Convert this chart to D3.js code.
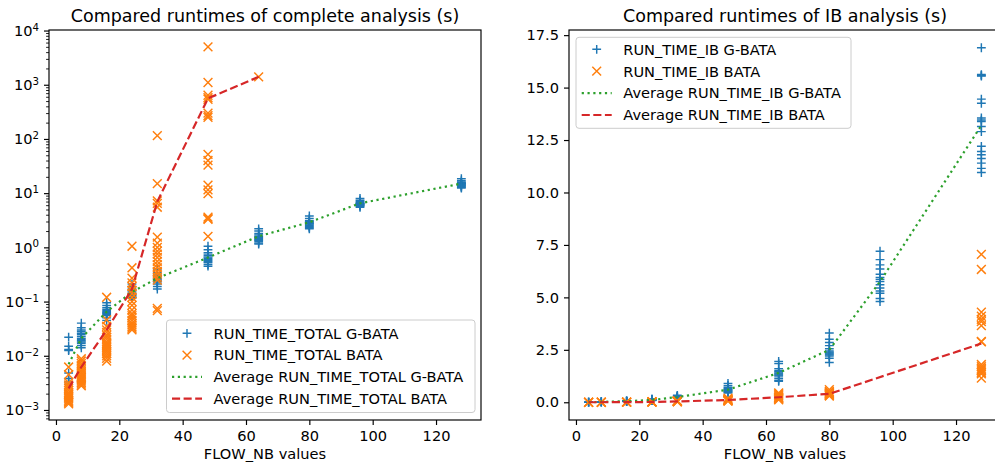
<!DOCTYPE html>
<html>
<head>
<meta charset="utf-8">
<script src="https://cdn.jsdelivr.net/npm/d3@7"></script>
<style>
  html, body { margin: 0; padding: 0; background: #fff; }
  svg { display: block; font-family: "DejaVu Sans", sans-serif; }
</style>
</head>
<body>
<svg id="chart" width="995" height="468"></svg>
<script>
// ---- data -------------------------------------------------------------
const flowAll = [4, 8, 16, 24, 32, 48, 64, 80, 96, 128];
const flowTotalBata = [4, 8, 16, 24, 32, 48, 64];
const flowIbBata = [4, 8, 16, 24, 32, 48, 64, 80, 128];

// complete analysis runtimes (s), one list of runs per FLOW_NB value
const totalGbataRuns = [
  [0.022, 0.015, 0.013, 0.0125, 0.0048, 0.0038, 0.0033, 0.003],
  [0.04, 0.033, 0.03, 0.028, 0.026, 0.025, 0.023, 0.021, 0.02, 0.019, 0.018, 0.017, 0.0155, 0.014],
  [0.095, 0.085, 0.078, 0.072, 0.068, 0.065, 0.062, 0.06, 0.058, 0.055, 0.05, 0.045],
  [0.21, 0.19, 0.17, 0.16, 0.15, 0.14, 0.135, 0.13, 0.125, 0.12, 0.115],
  [0.4, 0.34, 0.31, 0.29, 0.27, 0.26, 0.25, 0.24, 0.23, 0.21, 0.19, 0.17],
  [1.05, 0.9, 0.8, 0.75, 0.7, 0.66, 0.63, 0.6, 0.57, 0.55, 0.52, 0.48, 0.45],
  [2.2, 2.0, 1.8, 1.7, 1.6, 1.55, 1.5, 1.45, 1.4, 1.35, 1.3, 1.2, 1.15],
  [3.8, 3.4, 3.1, 3.0, 2.9, 2.8, 2.75, 2.7, 2.6, 2.5, 2.4, 2.3, 2.2],
  [8.0, 7.4, 7.0, 6.7, 6.5, 6.4, 6.3, 6.2, 6.0, 5.9, 5.7, 5.5],
  [18.5, 17.0, 16.0, 15.5, 15.2, 15.0, 14.7, 14.4, 14.0, 13.7, 13.2, 12.8, 12.4]
];
const totalBataRuns = [
  [0.0062, 0.0045, 0.0032, 0.0029, 0.0027, 0.0025, 0.0023, 0.0021, 0.002, 0.0019, 0.0018, 0.0017, 0.0016, 0.0015, 0.0014, 0.0014, 0.0013],
  [0.0088, 0.008, 0.0072, 0.0066, 0.006, 0.0055, 0.005, 0.0046, 0.0042, 0.004, 0.0038, 0.0036, 0.0034, 0.0032, 0.003, 0.0028],
  [0.12, 0.046, 0.035, 0.03, 0.027, 0.024, 0.022, 0.02, 0.018, 0.017, 0.016, 0.015, 0.014, 0.013, 0.012, 0.011, 0.01, 0.009, 0.008],
  [1.05, 0.42, 0.27, 0.22, 0.19, 0.16, 0.14, 0.12, 0.1, 0.085, 0.07, 0.06, 0.055, 0.05, 0.045, 0.04, 0.037, 0.034, 0.032, 0.03],
  [115, 15, 7.2, 6.5, 5.5, 1.55, 1.2, 1.0, 0.85, 0.75, 0.65, 0.55, 0.48, 0.42, 0.36, 0.32, 0.28, 0.25, 0.075, 0.068],
  [5000, 1100, 640, 580, 540, 300, 270, 250, 52, 40, 33, 14, 11.5, 9.8, 3.6, 3.4, 3.3, 1.6],
  [1400]
];
const avgTotalGbata = [0.007, 0.021, 0.065, 0.15, 0.27, 0.65, 1.6, 2.9, 6.5, 15];
const avgTotalBata = [0.0025, 0.0062, 0.03, 0.17, 7, 560, 1400];

// IB analysis runtimes (s)
const ibGbataRuns = [
  [0.008, 0.006, 0.005, 0.004],
  [0.025, 0.02, 0.018, 0.015, 0.012],
  [0.07, 0.06, 0.055, 0.05, 0.045, 0.04],
  [0.16, 0.14, 0.12, 0.11, 0.1, 0.09, 0.085],
  [0.33, 0.3, 0.28, 0.26, 0.25, 0.24, 0.22, 0.2],
  [0.9, 0.8, 0.72, 0.66, 0.62, 0.58, 0.55, 0.52, 0.48, 0.44],
  [1.95, 1.85, 1.6, 1.5, 1.45, 1.4, 1.35, 1.3, 1.25, 1.15, 1.05, 1.0],
  [3.3, 3.0, 2.85, 2.7, 2.55, 2.45, 2.4, 2.35, 2.3, 2.25, 2.2, 2.1, 1.9],
  [7.2, 6.8, 6.55, 6.35, 6.1, 5.95, 5.85, 5.75, 5.6, 5.45, 5.3, 5.2, 4.95, 4.8],
  [16.9, 15.62, 15.58, 15.55, 14.45, 14.25, 13.55, 13.45, 13.38, 13.15, 12.9, 12.2, 11.95, 11.8, 11.62, 11.4, 11.15, 10.95]
];
const ibBataRuns = [
  [0.0008, 0.0006, 0.0005],
  [0.002, 0.0015, 0.001],
  [0.008, 0.006, 0.005, 0.004],
  [0.03, 0.02, 0.015, 0.012, 0.01],
  [0.08, 0.06, 0.05, 0.04, 0.035, 0.03, 0.025],
  [0.2, 0.15, 0.12, 0.1, 0.09, 0.08, 0.07, 0.06],
  [0.45, 0.4, 0.35, 0.3, 0.25, 0.22, 0.2, 0.18, 0.15, 0.12],
  [0.6, 0.52, 0.48, 0.45, 0.42, 0.4, 0.38, 0.35, 0.32, 0.3],
  [7.05, 6.33, 4.3, 4.1, 3.95, 3.85, 3.65, 2.9, 2.88, 1.8, 1.7, 1.62, 1.55, 1.5, 1.42, 1.35, 1.15]
];
const avgIbGbata = [0.005, 0.018, 0.05, 0.11, 0.25, 0.6, 1.4, 2.5, 5.75, 13.2];
const avgIbBata = [0.0006, 0.0015, 0.005, 0.015, 0.04, 0.11, 0.24, 0.4, 2.8];

// ticks
const xTickValues = [0, 20, 40, 60, 80, 100, 120];
const logTickExponents = [-3, -2, -1, 0, 1, 2, 3, 4];
const linTickValues = [0, 2.5, 5, 7.5, 10, 12.5, 15, 17.5];

// ---- styling ----------------------------------------------------------
const BLUE = "#1f77b4", ORANGE = "#ff7f0e", GREEN = "#2ca02c", RED = "#d62728";
const FS = 14.6, TITLE_FS = 17.5;
const MS = 4.4;      // half marker size
const MW = 1.46;     // marker stroke
const LW = 2.2;      // average line width

const svg = d3.select("#chart");
const defs = svg.append("defs");

const plusPath = `M${-MS},0H${MS}M0,${-MS}V${MS}`;
const crossPath = `M${-MS},${-MS}L${MS},${MS}M${-MS},${MS}L${MS},${-MS}`;

function runsToPoints(flows, runs) {
  const pts = [];
  flows.forEach((f, i) => runs[i].forEach(v => pts.push([f, v])));
  return pts;
}

function drawPanel(p) {
  const x = d3.scaleLinear().domain([-2.2, 134.2]).range([p.left, p.right]);
  const y = (p.log ? d3.scaleLog() : d3.scaleLinear()).domain(p.yDomain).range([p.bottom, p.top]);
  const g = svg.append("g");

  defs.append("clipPath").attr("id", p.id + "-clip").append("rect")
    .attr("x", p.left).attr("y", p.top)
    .attr("width", p.right - p.left).attr("height", p.bottom - p.top);

  const plot = g.append("g").attr("clip-path", `url(#${p.id}-clip)`);

  // scatter of individual runs
  plot.append("g").selectAll("path")
    .data(runsToPoints(p.gbataFlows, p.gbataRuns)).join("path")
    .attr("transform", d => `translate(${x(d[0])},${y(d[1])})`)
    .attr("d", plusPath).attr("fill", "none")
    .attr("stroke", BLUE).attr("stroke-width", MW);
  plot.append("g").selectAll("path")
    .data(runsToPoints(p.bataFlows, p.bataRuns)).join("path")
    .attr("transform", d => `translate(${x(d[0])},${y(d[1])})`)
    .attr("d", crossPath).attr("fill", "none")
    .attr("stroke", ORANGE).attr("stroke-width", MW);

  // averages
  const line = d3.line().x(d => x(d[0])).y(d => y(d[1]));
  plot.append("path")
    .datum(p.gbataFlows.map((f, i) => [f, p.gbataAvg[i]]))
    .attr("d", line).attr("fill", "none").attr("stroke", GREEN)
    .attr("stroke-width", LW).attr("stroke-dasharray", "2.2,3.6");
  plot.append("path")
    .datum(p.bataAvgFlows.map((f, i) => [f, p.bataAvg[i]]))
    .attr("d", line).attr("fill", "none").attr("stroke", RED)
    .attr("stroke-width", LW).attr("stroke-dasharray", "8.1,3.5");

  // axes
  const xAxis = g.append("g").attr("transform", `translate(0,${p.bottom})`)
    .call(d3.axisBottom(x).tickValues(xTickValues).tickSize(5).tickPadding(6).tickSizeOuter(0));
  const yAxisGen = d3.axisLeft(y).tickSize(5).tickPadding(5).tickSizeOuter(0);
  if (p.log) {
    yAxisGen.tickValues(logTickExponents.map(e => Math.pow(10, e))).tickFormat("");
  } else {
    yAxisGen.tickValues(linTickValues).tickFormat(d3.format(".1f"));
  }
  const yAxis = g.append("g").attr("transform", `translate(${p.left},0)`).call(yAxisGen);

  if (p.log) {
    // minor ticks 2..9 x 10^k
    const minor = [];
    for (let e = -4; e <= 4; e++) for (let m = 2; m <= 9; m++) {
      const v = m * Math.pow(10, e);
      if (v >= p.yDomain[0] && v <= p.yDomain[1]) minor.push(v);
    }
    g.append("g").attr("transform", `translate(${p.left},0)`)
      .call(d3.axisLeft(y).tickValues(minor).tickFormat("").tickSize(2.9).tickSizeOuter(0))
      .call(a => a.select(".domain").remove())
      .call(a => a.selectAll("line").attr("stroke", "#000").attr("stroke-width", 0.88));
    yAxis.selectAll(".tick text").each(function (d) {
      const e = Math.round(Math.log10(d));
      const t = d3.select(this);
      t.text("");
      t.append("tspan").text("10");
      t.append("tspan").attr("dy", "-0.5em").attr("font-size", (FS * 0.7) + "px")
        .text(e < 0 ? "\u2212" + (-e) : String(e));
    });
  }

  [xAxis, yAxis].forEach(a => {
    a.attr("font-family", null).attr("font-size", null);
    a.select(".domain").remove();
    a.selectAll(".tick line").attr("stroke", "#000").attr("stroke-width", 1.17);
    a.selectAll(".tick text").attr("fill", "#000").style("font-size", FS + "px")
      .style("font-family", '"DejaVu Sans", sans-serif');
  });

  // spines
  g.append("rect").attr("x", p.left).attr("y", p.top)
    .attr("width", p.right - p.left).attr("height", p.bottom - p.top)
    .attr("fill", "none").attr("stroke", "#000").attr("stroke-width", 1.17);

  // title and axis label
  const cx = (p.left + p.right) / 2;
  g.append("text").attr("x", cx).attr("y", 22).attr("text-anchor", "middle")
    .style("font-size", TITLE_FS + "px").text(p.title);
  g.append("text").attr("x", cx).attr("y", 459).attr("text-anchor", "middle")
    .style("font-size", FS + "px").text("FLOW_NB values");

  // legend
  const L = p.legend;
  const lg = g.append("g");
  lg.append("rect").attr("x", L.x).attr("y", L.y).attr("width", L.w).attr("height", L.h)
    .attr("rx", 3).attr("fill", "#fff").attr("fill-opacity", 0.8)
    .attr("stroke", "#cccccc").attr("stroke-width", 1);
  const items = [
    { label: p.labels[0], kind: "plus" },
    { label: p.labels[1], kind: "cross" },
    { label: p.labels[2], kind: "dot" },
    { label: p.labels[3], kind: "dash" }
  ];
  items.forEach((it, i) => {
    const ry = L.row0 + i * L.rowGap;
    const hx0 = L.hx, hx1 = L.hx + 30;
    if (it.kind === "plus" || it.kind === "cross") {
      lg.append("path").attr("transform", `translate(${(hx0 + hx1) / 2},${ry})`)
        .attr("d", it.kind === "plus" ? plusPath : crossPath)
        .attr("fill", "none").attr("stroke", it.kind === "plus" ? BLUE : ORANGE)
        .attr("stroke-width", MW);
    } else {
      lg.append("line").attr("x1", hx0).attr("x2", hx1).attr("y1", ry).attr("y2", ry)
        .attr("stroke", it.kind === "dot" ? GREEN : RED).attr("stroke-width", LW)
        .attr("stroke-dasharray", it.kind === "dot" ? "2.2,3.6" : "8.1,3.5");
    }
    lg.append("text").attr("x", hx1 + 11.6).attr("y", ry + 5.3)
      .style("font-size", FS + "px").text(it.label);
  });
}

drawPanel({
  id: "total", left: 49, right: 481, top: 30, bottom: 420, log: true,
  yDomain: [Math.pow(10, -3.185), Math.pow(10, 4.01)],
  gbataFlows: flowAll, gbataRuns: totalGbataRuns, gbataAvg: avgTotalGbata,
  bataFlows: flowTotalBata, bataRuns: totalBataRuns,
  bataAvgFlows: flowTotalBata, bataAvg: avgTotalBata,
  title: "Compared runtimes of complete analysis (s)",
  labels: ["RUN_TIME_TOTAL G-BATA", "RUN_TIME_TOTAL BATA",
           "Average RUN_TIME_TOTAL G-BATA", "Average RUN_TIME_TOTAL BATA"],
  legend: { x: 166.5, y: 320, w: 308.5, h: 92.5, hx: 172, row0: 333.3, rowGap: 21.8 }
});

drawPanel({
  id: "ib", left: 569, right: 1001, top: 30, bottom: 420, log: false,
  yDomain: [-0.845, 17.745],
  gbataFlows: flowAll, gbataRuns: ibGbataRuns, gbataAvg: avgIbGbata,
  bataFlows: flowIbBata, bataRuns: ibBataRuns,
  bataAvgFlows: flowIbBata, bataAvg: avgIbBata,
  title: "Compared runtimes of IB analysis (s)",
  labels: ["RUN_TIME_IB G-BATA", "RUN_TIME_IB BATA",
           "Average RUN_TIME_IB G-BATA", "Average RUN_TIME_IB BATA"],
  legend: { x: 576, y: 37.3, w: 275, h: 91, hx: 581.7, row0: 49.3, rowGap: 21.9 }
});
</script>
</body>
</html>
